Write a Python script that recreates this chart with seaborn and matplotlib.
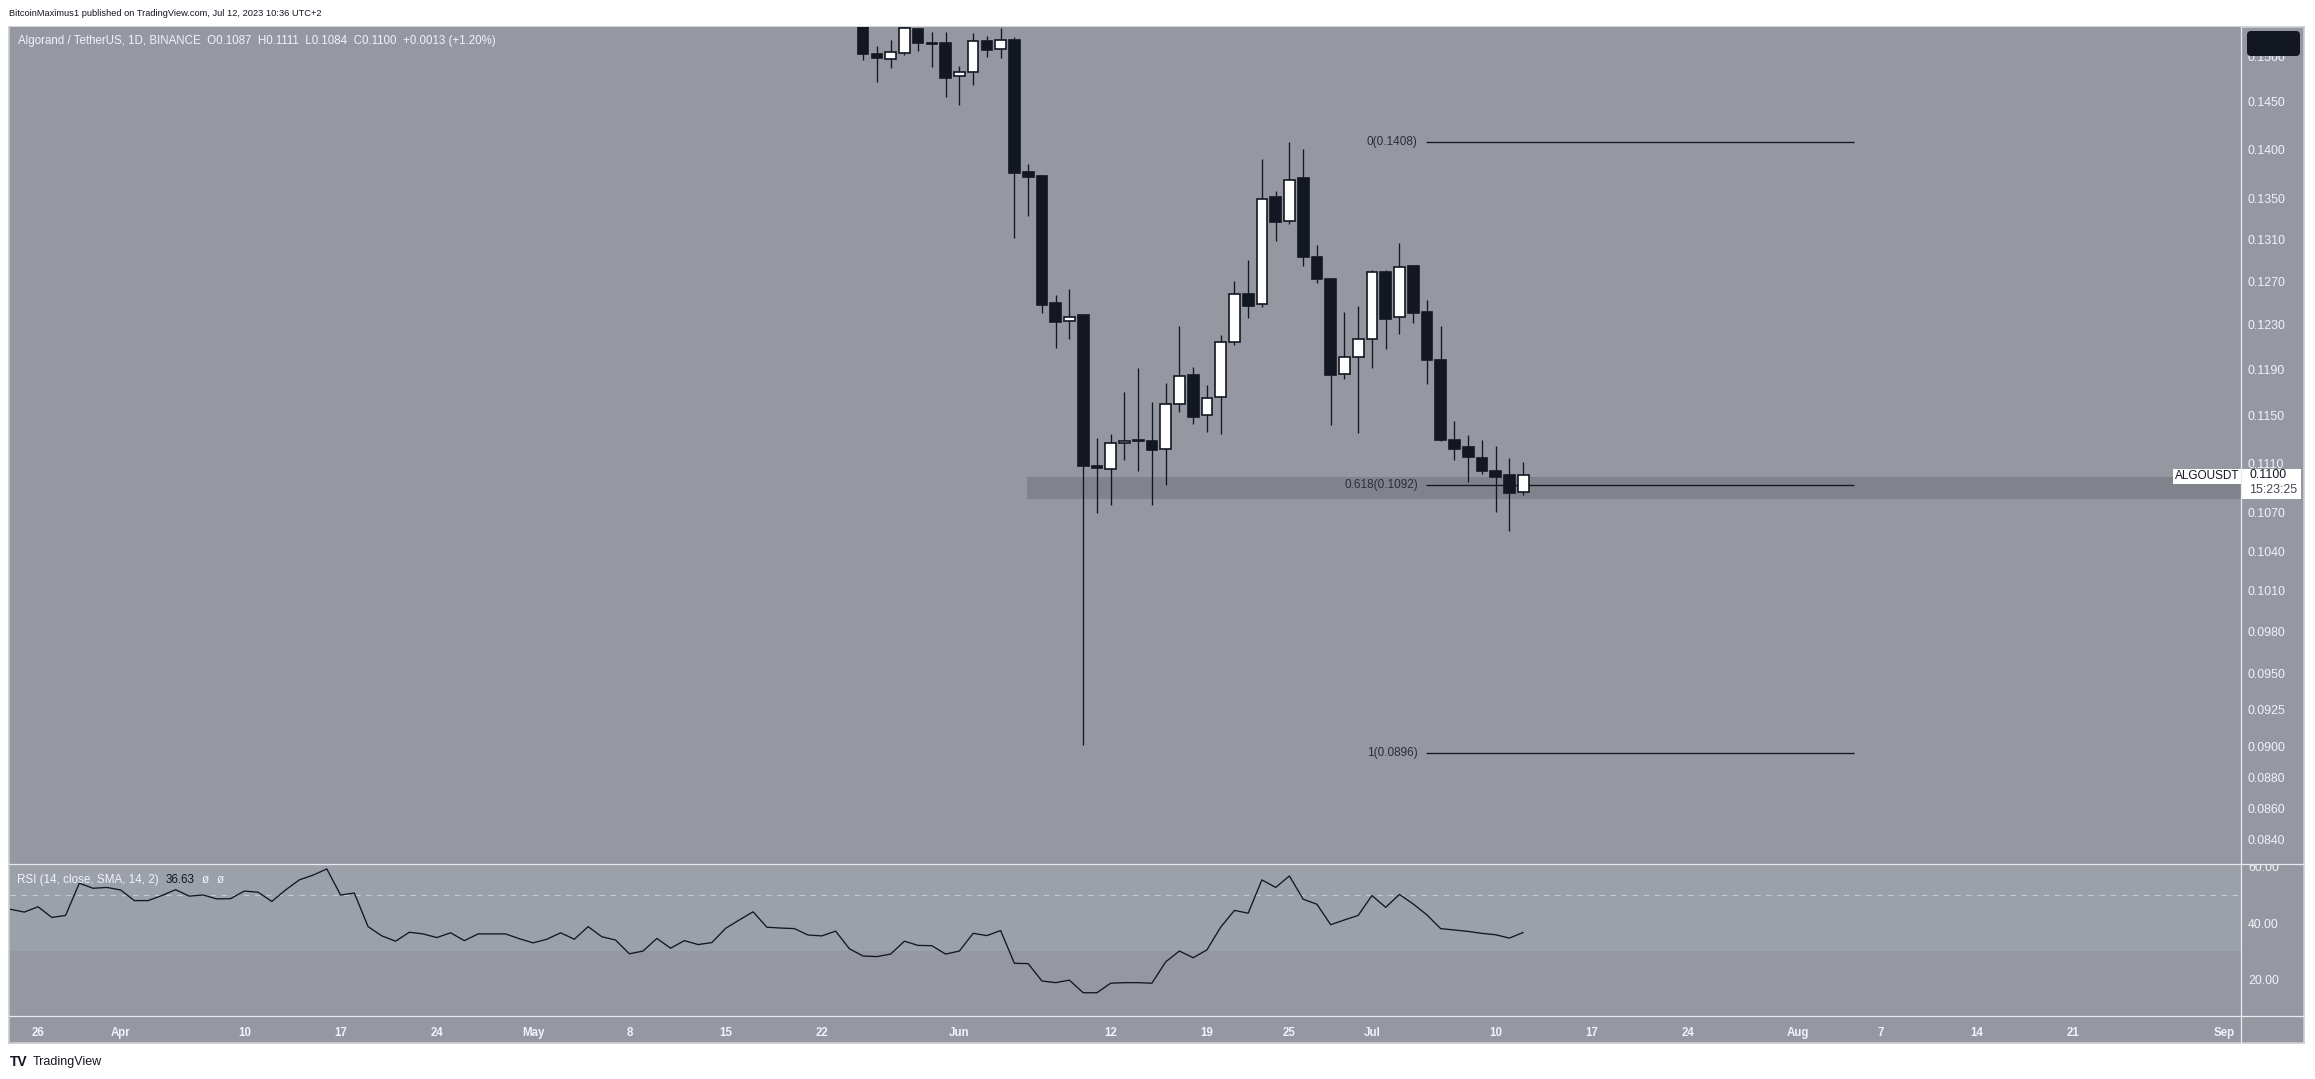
import seaborn as sns
import matplotlib.pyplot as plt
import numpy as np
import pandas as pd
from matplotlib.patches import Rectangle, FancyBboxPatch
from matplotlib.ticker import NullLocator
from matplotlib.transforms import Bbox, TransformedBbox

# ALGO/USDT daily candles (May 25 .. Jul 12 2023)
candle_dates = pd.date_range('2023-05-25', '2023-07-12', freq='D')
opens = [0.1560, 0.1502, 0.1497, 0.1504, 0.1530, 0.1515, 0.1515, 0.1478, 0.1482, 0.1517,
         0.1508, 0.1518, 0.1377, 0.1373, 0.1250, 0.1233, 0.1239, 0.1108, 0.1105, 0.1127,
         0.1129, 0.1128, 0.1122, 0.1160, 0.1185, 0.1150, 0.1166, 0.1214, 0.1258, 0.1249,
         0.1352, 0.1328, 0.1371, 0.1293, 0.1272, 0.1186, 0.1201, 0.1217, 0.1279, 0.1237,
         0.1284, 0.1241, 0.1198, 0.1129, 0.1123, 0.1114, 0.1104, 0.1100, 0.1087]
highs = [0.1566, 0.1511, 0.1518, 0.1545, 0.1532, 0.1527, 0.1527, 0.1489, 0.1526, 0.1523,
         0.1532, 0.1521, 0.1385, 0.1374, 0.1257, 0.1263, 0.1239, 0.1131, 0.1134, 0.1170,
         0.1191, 0.1161, 0.1178, 0.1229, 0.1192, 0.1176, 0.1220, 0.1270, 0.1290, 0.1390,
         0.1358, 0.1408, 0.1400, 0.1304, 0.1273, 0.1241, 0.1247, 0.1281, 0.1281, 0.1306,
         0.1285, 0.1252, 0.1229, 0.1145, 0.1133, 0.1129, 0.1124, 0.1114, 0.1111]
lows = [0.1496, 0.1472, 0.1487, 0.1501, 0.1506, 0.1488, 0.1455, 0.1447, 0.1468, 0.1499,
        0.1498, 0.1311, 0.1333, 0.1240, 0.1209, 0.1217, 0.0901, 0.1070, 0.1076, 0.1113,
        0.1104, 0.1076, 0.1092, 0.1153, 0.1143, 0.1136, 0.1134, 0.1211, 0.1236, 0.1246,
        0.1308, 0.1325, 0.1284, 0.1268, 0.1142, 0.1181, 0.1135, 0.1191, 0.1208, 0.1221,
        0.1231, 0.1177, 0.1128, 0.1113, 0.1095, 0.1101, 0.1071, 0.1056, 0.1084]
closes = [0.1502, 0.1498, 0.1505, 0.1532, 0.1515, 0.1514, 0.1476, 0.1482, 0.1517, 0.1507,
          0.1518, 0.1376, 0.1372, 0.1248, 0.1232, 0.1237, 0.1108, 0.1106, 0.1127, 0.1128,
          0.1128, 0.1121, 0.1160, 0.1184, 0.1149, 0.1165, 0.1214, 0.1258, 0.1247, 0.1350,
          0.1327, 0.1369, 0.1293, 0.1272, 0.1185, 0.1201, 0.1217, 0.1279, 0.1235, 0.1283,
          0.1240, 0.1198, 0.1129, 0.1122, 0.1115, 0.1104, 0.1099, 0.1086, 0.1100]

# RSI(14) values, Mar 24 .. Jul 12 2023
rsi_dates = pd.date_range('2023-03-24', '2023-07-12', freq='D')
rsi_values = [44.9, 43.9, 45.8, 42.0, 42.7, 54.2, 52.4, 52.7, 51.8, 48.0,
              48.0, 49.8, 51.9, 49.6, 50.0, 48.6, 48.7, 51.4, 51.0, 47.7,
              51.8, 55.4, 57.1, 59.3, 50.0, 50.7, 38.7, 35.4, 33.5, 36.7,
              36.1, 34.8, 36.5, 33.7, 36.1, 36.1, 36.1, 34.4, 32.9, 34.2,
              36.5, 34.2, 38.7, 35.1, 33.9, 29.0, 30.0, 34.5, 31.0, 33.7,
              32.3, 33.0, 38.1, 41.1, 44.0, 38.5, 38.2, 38.0, 35.7, 35.4,
              37.1, 30.8, 28.2, 28.0, 28.9, 33.5, 32.0, 31.9, 28.9, 30.0,
              36.3, 35.5, 37.3, 25.6, 25.5, 19.3, 18.7, 19.6, 15.1, 15.1,
              18.5, 18.7, 18.7, 18.5, 26.1, 30.0, 27.6, 30.4, 38.5, 44.5,
              43.5, 55.4, 52.7, 56.8, 48.5, 46.7, 39.4, 41.1, 42.7, 49.8,
              45.6, 50.2, 46.8, 42.9, 38.0, 37.5, 37.0, 36.3, 35.8, 34.6,
              36.63]

# fibonacci retracement levels and support zone
fib_names = ['0', '0.618', '1']
fib_levels = [0.1408, 0.1092, 0.0896]
zone_low, zone_high = 0.10813, 0.10987

price_ticks = [0.1500, 0.1450, 0.1400, 0.1350, 0.1310, 0.1270, 0.1230, 0.1190, 0.1150, 0.1110,
               0.1070, 0.1040, 0.1010, 0.0980, 0.0950, 0.0925, 0.0900, 0.0880, 0.0860, 0.0840]
rsi_ticks = [20, 40, 60]
xtick_dates = ['2023-03-26', '2023-04-01', '2023-04-10', '2023-04-17', '2023-04-24', '2023-05-01',
               '2023-05-08', '2023-05-15', '2023-05-22', '2023-06-01', '2023-06-12', '2023-06-19',
               '2023-06-25', '2023-07-01', '2023-07-10', '2023-07-17', '2023-07-24', '2023-08-01',
               '2023-08-07', '2023-08-14', '2023-08-21', '2023-09-01']
xtick_labels = ['26', 'Apr', '10', '17', '24', 'May', '8', '15', '22', 'Jun', '12', '19',
                '25', 'Jul', '10', '17', '24', 'Aug', '7', '14', '21', 'Sep']

# day numbers from Mar 26
start = pd.Timestamp('2023-03-26')
cd = (candle_dates - start).days.values
rd = (rsi_dates - start).days.values
td = (pd.to_datetime(xtick_dates) - start).days.values

sns.set_style('white')
plt.rcParams['font.family'] = ['Liberation Sans', 'DejaVu Sans']

BG = '#9598a1'
DARK = '#131722'
LIGHT = '#f0f3fa'
SEP = '#e8eaef'
XLIM = (-2.04, 160.2)

W, H = 2315, 1079
fig = plt.figure(figsize=(W / 100, H / 100), dpi=100)
fig.patch.set_facecolor('white')


def frac(x0, y0, x1, y1):
    return [x0 / W, 1 - y1 / H, (x1 - x0) / W, (y1 - y0) / H]


# chart frame background
bg = fig.add_axes(frac(9, 27, 2304, 1043))
bg.set_facecolor(BG)
bg.set_xticks([])
bg.set_yticks([])
for s in bg.spines.values():
    s.set_color('#c9ccd3')
    s.set_linewidth(1.2)
bg.set_zorder(-1)

# ---- price panel ----
ax = fig.add_axes(frac(10, 27, 2241, 864))
ax.set_facecolor(BG)
for s in ax.spines.values():
    s.set_visible(False)
ax.set_yscale('log')
ax.set_xlim(*XLIM)
ax.set_ylim(0.08252, 0.15327)

ax.add_patch(Rectangle((71.9, zone_low), 200, zone_high - zone_low,
                       facecolor='#80838b', edgecolor='none', zorder=1))

o, h, l, c = map(np.array, (opens, highs, lows, closes))
up = c >= o
bottoms = np.minimum(o, c)
tops = np.maximum(o, c)
ax.vlines(cd, l, h, color=DARK, lw=0.95, zorder=3)
ax.bar(cd, tops - bottoms, bottom=bottoms, width=0.78,
       color=np.where(up, 'white', DARK), edgecolor=DARK, linewidth=1.2, zorder=4)

fib_x0, fib_x1 = 100.96, 132.06
for name, lvl in zip(fib_names, fib_levels):
    ax.hlines(lvl, fib_x0, fib_x1, color=DARK, lw=0.95, zorder=2)
    ax.text(fib_x0 - 0.62, lvl, f'{name}({lvl:.4f})', ha='right', va='center',
            fontsize=8.5, color='#2a2e39')

ax.yaxis.tick_right()
ax.yaxis.set_minor_locator(NullLocator())
ax.set_yticks(price_ticks)
ax.set_yticklabels([f'{t:.4f}' for t in price_ticks])
ax.tick_params(axis='y', length=0, pad=5, labelsize=8.9, labelcolor=LIGHT)
ax.tick_params(axis='x', bottom=False, labelbottom=False)

# ---- RSI panel ----
ax2 = fig.add_axes(frac(10, 864, 2241, 1016))
ax2.set_facecolor(BG)
for s in ax2.spines.values():
    s.set_visible(False)
ax2.axhspan(30, 70, color='#9ca0a8', lw=0, zorder=0)
ax2.axhline(50, color='#c8cad0', lw=0.8, ls=(0, (5, 5)), zorder=1)
sns.lineplot(x=rd, y=rsi_values, ax=ax2, color=DARK, lw=0.95, zorder=3)
ax2.set_xlim(*XLIM)
ax2.set_ylim(6.79, 61.07)
ax2.set_xlabel('')
ax2.set_ylabel('')
ax2.yaxis.tick_right()
ax2.set_yticks(rsi_ticks)
ax2.set_yticklabels([f'{t:.2f}' for t in rsi_ticks])
ax2.tick_params(axis='y', length=0, pad=5, labelsize=8.9, labelcolor=LIGHT)
ax2.set_xticks(td)
ax2.set_xticklabels(xtick_labels, fontweight='bold')
ax2.tick_params(axis='x', length=0, pad=8, labelsize=8.3, labelcolor=LIGHT)
clip = TransformedBbox(Bbox.from_extents(2241 / W, 1 - 1016 / H, 2304 / W, 1 - 864 / H),
                       fig.transFigure)
for lab in ax2.get_yticklabels():
    lab.set_clip_on(True)
    lab.set_clip_box(clip)

# ---- overlay in pixel coords for the TradingView chrome ----
ov = fig.add_axes([0, 0, 1, 1])
ov.set_xlim(0, W)
ov.set_ylim(H, 0)
ov.axis('off')
ov.set_zorder(5)

ov.plot([2241, 2241], [27, 1043], color=SEP, lw=0.9)
ov.plot([9, 2304], [864, 864], color=SEP, lw=0.9)
ov.plot([9, 2304], [1016, 1016], color=SEP, lw=0.9)

ov.text(9, 13, 'BitcoinMaximus1 published on TradingView.com, Jul 12, 2023 10:36 UTC+2',
        va='center', fontsize=6.7, color=DARK)
ov.text(18, 41, 'Algorand / TetherUS, 1D, BINANCE  O0.1087  H0.1111  L0.1084  C0.1100  +0.0013 (+1.20%)',
        va='center', fontsize=8.3, color=LIGHT)

ov.text(17, 880, 'RSI (14, close, SMA, 14, 2)', va='center', fontsize=8.4, color=LIGHT)
ov.text(166, 880, f'{rsi_values[-1]:.2f}', va='center', fontsize=8.4, color=DARK)
ov.text(202, 880, 'ø', va='center', fontsize=8.4, color=LIGHT)
ov.text(217, 880, 'ø', va='center', fontsize=8.4, color=LIGHT)

ov.text(10, 1062, 'TV', va='center', fontsize=10, fontweight='heavy', color=DARK)
ov.text(33, 1062, 'TradingView', va='center', fontsize=9, color=DARK)

ov.add_patch(FancyBboxPatch((2247, 31), 53, 25, boxstyle='round,pad=0,rounding_size=4',
                            facecolor=DARK, edgecolor='none'))

# last price labels
cy = H - ax.transData.transform((0, closes[-1]))[1]
ov.add_patch(Rectangle((2173, cy - 6), 68, 14.6, facecolor='white', edgecolor='none'))
ov.text(2207, cy + 1, 'ALGOUSDT', ha='center', va='center', fontsize=8.5, color=DARK)
ov.add_patch(Rectangle((2241, cy - 6), 60, 30, facecolor='white', edgecolor='none'))
ov.text(2249, cy, f'{closes[-1]:.4f}', va='center', fontsize=8.9, color=DARK)
ov.text(2249, cy + 15, '15:23:25', va='center', fontsize=8.9, color='#434651')

fig.savefig('out.png', dpi=100, facecolor='white')
